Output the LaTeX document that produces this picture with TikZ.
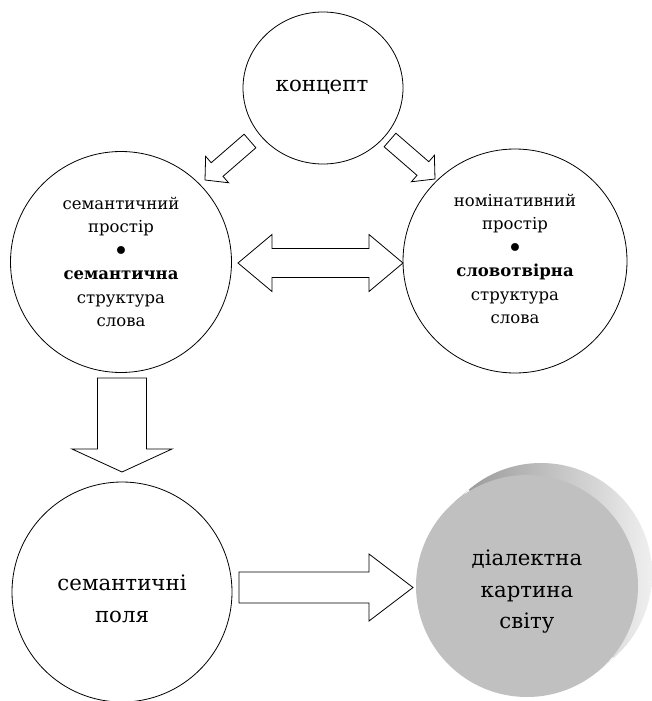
\documentclass[tikz,border=0pt]{standalone}
\usepackage{fontspec}
\setmainfont{DejaVu Serif}
\newfontfamily\textfam{DejaVu Serif}
\usetikzlibrary{calc,shapes.geometric}

% block arrow: tail, tip, half shaft width, half head width, head length
\newcommand\blockarrow[5]{%
  \path ($(#2)!#5!(#1)$) coordinate (ba-neck);
  \draw[blockarr] ($(#1)!#3!90:(#2)$) -- ($(ba-neck)!#3!90:(#2)$)
    -- ($(ba-neck)!#4!90:(#2)$) -- (#2) -- ($(ba-neck)!#4!-90:(#2)$)
    -- ($(ba-neck)!#3!-90:(#2)$) -- ($(#1)!#3!-90:(#2)$) -- cycle;
}
% two-headed block arrow: left tip, right tip, half shaft, half head, head length
\newcommand\dblockarrow[5]{%
  \path ($(#1)!#5!(#2)$) coordinate (da-nl) ($(#2)!#5!(#1)$) coordinate (da-nr);
  \draw[blockarr] (#1) -- ($(da-nl)!#4!90:(#2)$) -- ($(da-nl)!#3!90:(#2)$)
    -- ($(da-nr)!#3!90:(#2)$) -- ($(da-nr)!#4!90:(#2)$) -- (#2)
    -- ($(da-nr)!#4!-90:(#2)$) -- ($(da-nr)!#3!-90:(#2)$)
    -- ($(da-nl)!#3!-90:(#2)$) -- ($(da-nl)!#4!-90:(#2)$) -- cycle;
}
% enlarged bullet between the two halves of a label
\newcommand\bigdot{\raisebox{-4pt}{\fontsize{27}{23.4}\selectfont\textbullet}}

\definecolor{facegray}{RGB}{192,192,192}

\begin{document}
\begin{tikzpicture}[x=1pt,y=-1pt,
  blockarr/.style={draw=black, line width=0.8pt, fill=white, line join=miter},
  ring/.style={draw=black, line width=0.8pt, fill=white, circle, inner sep=0pt},
  small/.style={font=\textfam\fontsize{16.5}{23.4}\selectfont, align=center},
  large/.style={font=\textfam\fontsize{21.3}{31.5}\selectfont, align=center}]
\useasboundingbox (0,0) rectangle (652,701);
\fill[white] (0,0) rectangle (652,701);

% circles
\node[draw=black, line width=0.8pt, fill=white, ellipse, inner sep=0pt,
      minimum width=160pt, minimum height=152pt] (concept) at (323,88) {};
\node[large] at (322,87) {концепт};

\node[ring, minimum size=221pt] (sem) at (121,262) {};
\node[small] at (121,262) {семантичний\\простір\\\bigdot\\\textbf{семантична}\\структура\\слова};

\node[ring, minimum size=224pt] (nom) at (515,261) {};
\node[small] at (515,259) {номінативний\\простір\\\bigdot\\\textbf{словотвірна}\\структура\\слова};

\node[ring, minimum size=220pt] (fields) at (122,592) {};
\node[large] at ($(fields)+(0,7)$) {семантичні\\поля};

% shaded disc: side first, then the flat face
\coordinate (faceC) at (527,586);
\coordinate (backC) at (541,574);
\shade[left color=black!46, right color=black!6]
  (backC) circle (111pt)
  ($(faceC)!111pt!90:(backC)$) -- ($(backC)!111pt!-90:(faceC)$)
  -- ($(backC)!111pt!90:(faceC)$) -- ($(faceC)!111pt!-90:(backC)$) -- cycle;
\node[circle, fill=facegray, inner sep=0pt, minimum size=222pt] (world) at (faceC) {};
\node[large] at ($(world)+(0,6)$) {діалектна\\картина\\світу};

% arrow end points
\coordinate (a1s) at (250,141); \coordinate (a1e) at (205,180);
\coordinate (a2s) at (390,140); \coordinate (a2e) at (435,179);
\coordinate (a3l) at (238,263); \coordinate (a3r) at (403,263);
\coordinate (a4s) at (122,378); \coordinate (a4e) at (122,472);
\coordinate (a5s) at (239,587.5); \coordinate (a5e) at (413,587.5);

\blockarrow{a1s}{a1e}{9pt}{17.5pt}{16pt}
\blockarrow{a2s}{a2e}{9pt}{17.5pt}{16pt}
\dblockarrow{a3l}{a3r}{14.5pt}{28.5pt}{34pt}
\blockarrow{a4s}{a4e}{24.5pt}{50pt}{23pt}
\blockarrow{a5s}{a5e}{15.5pt}{33.5pt}{44pt}
\end{tikzpicture}
\end{document}
